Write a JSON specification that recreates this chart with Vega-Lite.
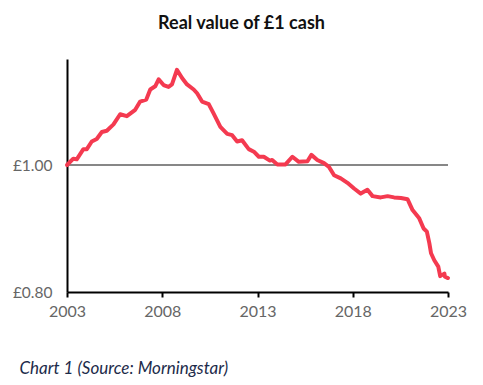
{
  "$schema": "https://vega.github.io/schema/vega-lite/v6.json",
  "autosize": "none",
  "width": 381,
  "height": 233,
  "padding": {"left": 67, "top": 59, "right": 35, "bottom": 93},
  "background": "white",
  "config": {"view": {"stroke": null}, "font": "Lato"},
  "title": {"text": "Real value of £1 cash", "anchor": "middle", "dx": -16, "offset": 26, "fontSize": 18, "fontWeight": "bold", "color": "#111111", "font": "Lato"},
  "data": {"values": [
    {"t": 2003.00, "v": 1.000}, {"t": 2003.33, "v": 1.010}, {"t": 2003.51, "v": 1.009}, {"t": 2003.86, "v": 1.025},
    {"t": 2004.04, "v": 1.025}, {"t": 2004.30, "v": 1.037}, {"t": 2004.56, "v": 1.041}, {"t": 2004.83, "v": 1.052},
    {"t": 2005.09, "v": 1.054}, {"t": 2005.44, "v": 1.064}, {"t": 2005.79, "v": 1.080}, {"t": 2006.14, "v": 1.077},
    {"t": 2006.58, "v": 1.087}, {"t": 2006.84, "v": 1.100}, {"t": 2007.16, "v": 1.103}, {"t": 2007.37, "v": 1.119},
    {"t": 2007.63, "v": 1.124}, {"t": 2007.81, "v": 1.135}, {"t": 2008.07, "v": 1.126}, {"t": 2008.33, "v": 1.123},
    {"t": 2008.51, "v": 1.127}, {"t": 2008.77, "v": 1.150}, {"t": 2009.04, "v": 1.137}, {"t": 2009.30, "v": 1.127},
    {"t": 2009.65, "v": 1.119}, {"t": 2009.83, "v": 1.113}, {"t": 2010.09, "v": 1.100}, {"t": 2010.44, "v": 1.096},
    {"t": 2010.70, "v": 1.081}, {"t": 2011.05, "v": 1.060}, {"t": 2011.41, "v": 1.049}, {"t": 2011.67, "v": 1.047},
    {"t": 2011.93, "v": 1.037}, {"t": 2012.19, "v": 1.039}, {"t": 2012.54, "v": 1.025}, {"t": 2012.81, "v": 1.021},
    {"t": 2013.07, "v": 1.013}, {"t": 2013.33, "v": 1.013}, {"t": 2013.65, "v": 1.007}, {"t": 2013.77, "v": 1.008},
    {"t": 2014.04, "v": 1.001}, {"t": 2014.47, "v": 1.001}, {"t": 2014.83, "v": 1.013}, {"t": 2015.17, "v": 1.005},
    {"t": 2015.62, "v": 1.006}, {"t": 2015.83, "v": 1.016}, {"t": 2016.14, "v": 1.008}, {"t": 2016.49, "v": 1.003},
    {"t": 2016.75, "v": 0.997}, {"t": 2017.02, "v": 0.984}, {"t": 2017.37, "v": 0.979}, {"t": 2017.72, "v": 0.972},
    {"t": 2018.07, "v": 0.963}, {"t": 2018.42, "v": 0.955}, {"t": 2018.77, "v": 0.961}, {"t": 2019.04, "v": 0.951},
    {"t": 2019.47, "v": 0.949}, {"t": 2019.83, "v": 0.951}, {"t": 2020.17, "v": 0.949}, {"t": 2020.53, "v": 0.948},
    {"t": 2020.88, "v": 0.946}, {"t": 2021.14, "v": 0.929}, {"t": 2021.49, "v": 0.916}, {"t": 2021.72, "v": 0.900},
    {"t": 2021.89, "v": 0.895}, {"t": 2022.02, "v": 0.877}, {"t": 2022.11, "v": 0.861}, {"t": 2022.28, "v": 0.850},
    {"t": 2022.49, "v": 0.840}, {"t": 2022.59, "v": 0.825}, {"t": 2022.81, "v": 0.829}, {"t": 2022.84, "v": 0.824},
    {"t": 2023.00, "v": 0.822}
  ]},
  "layer": [
    {
      "mark": {"type": "rule", "color": "#888888", "strokeWidth": 1},
      "encoding": {"y": {"datum": 1.0}}
    },
    {
      "mark": {"type": "line", "color": "#f43a50", "strokeWidth": 4, "strokeJoin": "round", "strokeCap": "round"},
      "encoding": {
        "x": {
          "field": "t", "type": "quantitative",
          "scale": {"domain": [2003, 2023], "nice": false, "zero": false},
          "axis": {
            "values": [2003, 2008, 2013, 2018, 2023], "format": "d", "grid": false, "labelFlush": false, "labelOverlap": false,
            "domainColor": "#000000", "domainWidth": 2, "tickColor": "#000000", "tickWidth": 2, "tickSize": 5,
            "labelColor": "#666666", "labelFontSize": 16, "labelPadding": 6, "labelFont": "Lato",
            "title": "Chart 1 (Source: Morningstar)", "titleFont": "Lato", "titleFontStyle": "italic", "titleFontWeight": "normal",
            "titleFontSize": 17, "titleColor": "#1c2b4a", "titleAnchor": "start", "titleAlign": "left",
            "titleX": -48, "titleY": 81, "titleBaseline": "alphabetic"
          }
        },
        "y": {
          "field": "v", "type": "quantitative",
          "scale": {"domain": [0.8, 1.167], "nice": false, "zero": false},
          "axis": {
            "values": [0.8, 1.0], "labelExpr": "'£' + format(datum.value, '.2f')", "grid": false,
            "ticks": false, "domainColor": "#000000", "domainWidth": 2,
            "labelColor": "#666666", "labelFontSize": 15.5, "labelPadding": 15, "labelFont": "Lato",
            "title": null
          }
        }
      }
    }
  ]
}
